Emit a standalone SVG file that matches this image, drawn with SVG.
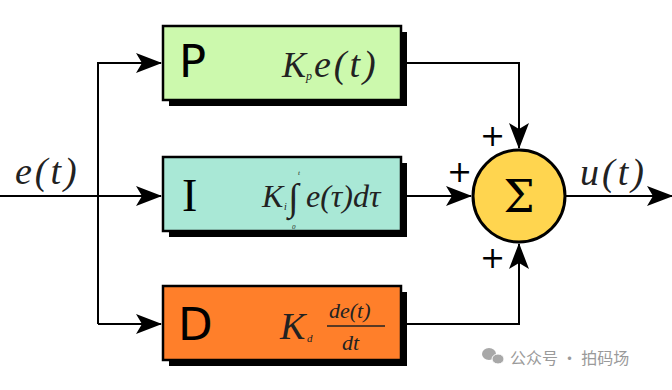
<svg xmlns="http://www.w3.org/2000/svg" width="672" height="390" viewBox="0 0 672 390">
<style>
.box{stroke:#000;stroke-width:2.5}
.sh{fill:#000}
.ln{stroke:#000;stroke-width:2;fill:none}
.lbl{font-family:"DejaVu Sans",sans-serif;font-size:45px;fill:#000}
.m{font-family:"Liberation Serif",serif;font-style:italic;fill:#222}
.sp{letter-spacing:3px}
.plus{font-family:"DejaVu Sans",sans-serif;font-size:30px;fill:#000}
.wm{font-family:"Noto Sans CJK SC",sans-serif;font-size:16px;fill:#9a9a9a}
</style>
<defs>
<marker id="ah" markerWidth="26" markerHeight="20" refX="25" refY="10" orient="auto" markerUnits="userSpaceOnUse">
<path d="M0,0 L26,10 L0,20 L6,10 Z" fill="#000"/>
</marker>
</defs>
<rect width="672" height="390" fill="#fff"/>
<g id="connectors">
<path class="ln" d="M0,196 H161" marker-end="url(#ah)"/>
<path class="ln" d="M98,324 V63 H161" marker-end="url(#ah)"/>
<path class="ln" d="M98,324 H161" marker-end="url(#ah)"/>
<path class="ln" d="M401,63 H519 V148" marker-end="url(#ah)"/>
<path class="ln" d="M401,196 H471" marker-end="url(#ah)"/>
<path class="ln" d="M401,324 H519 V244" marker-end="url(#ah)"/>
<path class="ln" d="M566,196 H672" marker-end="url(#ah)"/>
</g>
<g id="P">
<rect class="sh" x="169" y="32" width="238" height="74"/>
<rect class="box" x="163" y="26" width="238" height="74" fill="#ccf9ad"/>
<text class="lbl" x="179" y="77">P</text>
<text class="m" x="282" y="77" font-size="36">K</text>
<text class="m" x="306" y="80" font-size="12">p</text>
<text class="m sp" x="314" y="77" font-size="38">e(t)</text>
</g>
<g id="I">
<rect class="sh" x="169" y="163" width="238" height="74"/>
<rect class="box" x="163" y="157" width="238" height="74" fill="#a9e8d6"/>
<text x="182" y="211" font-family="Liberation Serif,serif" font-size="46" fill="#000">I</text>
<text class="m" x="262" y="207" font-size="32">K</text>
<text class="m" x="284" y="210" font-size="10">i</text>
<text class="m" x="288" y="210" font-size="38" font-style="normal">∫</text>
<text class="m" x="298" y="175" font-size="7">t</text>
<text class="m" x="292" y="229" font-size="7">0</text>
<text class="m" x="306" y="207" font-size="32">e(τ)dτ</text>
</g>
<g id="D">
<rect class="sh" x="169" y="292" width="238" height="74"/>
<rect class="box" x="163" y="286" width="238" height="74" fill="#ff7f2a"/>
<text class="lbl" x="178" y="340">D</text>
<text class="m" x="280" y="339" font-size="38">K</text>
<text class="m" x="307" y="342" font-size="11">d</text>
<text class="m" x="329" y="318" font-size="22">de(t)</text>
<line x1="327" y1="326" x2="385" y2="326" stroke="#222" stroke-width="1.5"/>
<text class="m" x="342" y="350" font-size="22">dt</text>
</g>
<g id="sum">
<circle cx="519" cy="196" r="46" fill="#ffd54f" stroke="#000" stroke-width="3"/>
<text x="519" y="212" text-anchor="middle" font-family="DejaVu Serif,serif" font-size="44" fill="#000">Σ</text>
</g>
<g id="labels">
<text class="m sp" x="15" y="184" font-size="38">e(t)</text>
<text class="m sp" x="580" y="185" font-size="38">u(t)</text>
<text class="plus" x="480" y="146">+</text>
<text class="plus" x="447" y="182">+</text>
<text class="plus" x="480" y="268">+</text>
</g>
<g id="watermark">
<ellipse cx="489" cy="354" rx="7" ry="6" fill="#a8a8a8"/>
<ellipse cx="498" cy="359" rx="6" ry="5" fill="#a8a8a8" stroke="#fff" stroke-width="1"/>
<text class="wm" x="510" y="364">公众号 · 拍码场</text>
</g>
</svg>
